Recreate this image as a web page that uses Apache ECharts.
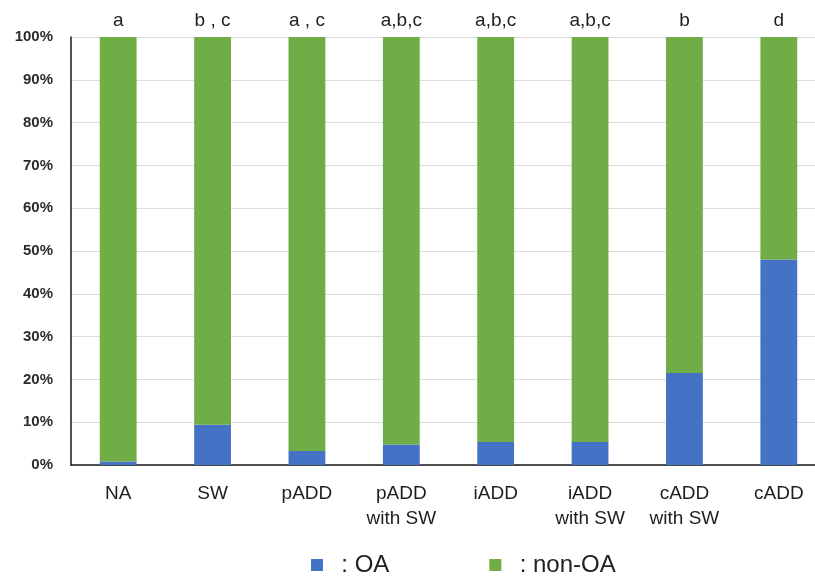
<!DOCTYPE html>
<html>
<head>
<meta charset="utf-8">
<style>
  html, body { margin: 0; padding: 0; background: #ffffff; }
  #chart { width: 815px; height: 577px; }
</style>
<script src="https://cdn.jsdelivr.net/npm/echarts@6/dist/echarts.min.js"></script>
</head>
<body>
<div id="chart"></div>
<script>
// Groups along the x axis
const categories = ['NA', 'SW', 'pADD', 'pADD\nwith SW', 'iADD', 'iADD\nwith SW', 'cADD\nwith SW', 'cADD'];
// Share of OA per group (%)
const oaShare = [0.8, 9.4, 3.3, 4.8, 5.4, 5.4, 21.5, 48.0];
// Share of non-OA per group (%)
const nonOaShare = [99.2, 90.6, 96.7, 95.2, 94.6, 94.6, 78.5, 52.0];
// Significance letters shown above each bar
const groupLetters = ['a', 'b , c', 'a , c', 'a,b,c', 'a,b,c', 'a,b,c', 'b', 'd'];
// Y axis ticks
const yMin = 0, yMax = 100, yStep = 10;

const chart = echarts.init(document.getElementById('chart'), null, { renderer: 'canvas' });

const font = 'Liberation Sans, Arial, Helvetica, sans-serif';

chart.setOption({
  animation: false,
  backgroundColor: '#ffffff',
  textStyle: { fontFamily: font },
  // the plot runs on past the right edge of the canvas
  grid: { left: 71, top: 37, width: 755, height: 428, containLabel: false, outerBoundsMode: 'none' },
  legend: {
    left: 306,
    top: 548,
    itemWidth: 12,
    itemHeight: 12,
    itemGap: 100,
    icon: 'rect',
    data: ['OA', 'non-OA'],
    formatter: name => '  : ' + name,
    textStyle: { fontSize: 24, color: '#222222', fontFamily: font }
  },
  xAxis: {
    type: 'category',
    data: categories,
    axisLine: { show: true, lineStyle: { color: '#1a1a1a', width: 1.5 } },
    axisTick: { show: false },
    axisLabel: {
      interval: 0,
      margin: 16,
      fontSize: 19,
      lineHeight: 25,
      color: '#1e1e1e',
      fontFamily: font
    }
  },
  yAxis: {
    type: 'value',
    min: yMin,
    max: yMax,
    interval: yStep,
    axisLine: { show: true, lineStyle: { color: '#1a1a1a', width: 1.5 } },
    axisTick: { show: false },
    splitLine: { show: true, lineStyle: { color: '#dcdcdc', width: 1 } },
    axisLabel: {
      formatter: '{value}%',
      margin: 18,
      fontSize: 15,
      fontWeight: 'bold',
      color: '#2b2b2b',
      fontFamily: font
    }
  },
  series: [
    {
      name: 'OA',
      type: 'bar',
      stack: 'share',
      barWidth: '39%',
      itemStyle: { color: '#4472C4' },
      data: oaShare
    },
    {
      name: 'non-OA',
      type: 'bar',
      stack: 'share',
      barWidth: '39%',
      itemStyle: { color: '#70AD47' },
      label: {
        show: true,
        position: 'top',
        distance: 7,
        fontSize: 19,
        color: '#222222',
        fontFamily: font,
        formatter: p => groupLetters[p.dataIndex]
      },
      data: nonOaShare
    }
  ]
});
</script>
</body>
</html>
